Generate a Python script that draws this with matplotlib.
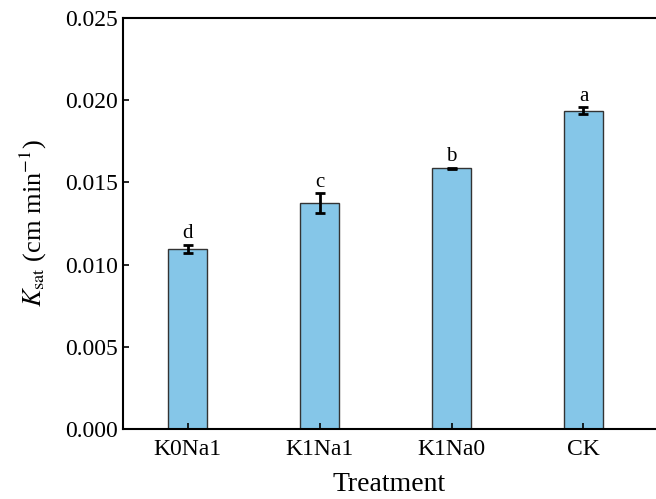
import numpy as np
import matplotlib.pyplot as plt

plt.rcParams['font.family'] = ['Liberation Serif', 'DejaVu Serif']
plt.rcParams['mathtext.fontset'] = 'stix'

# data
treatments = ['K0Na1', 'K1Na1', 'K1Na0', 'CK']
ksat = [0.01095, 0.01375, 0.01585, 0.01935]
ksat_err = [0.00025, 0.00060, 0.00004, 0.00022]
letters = ['d', 'c', 'b', 'a']

fig = plt.figure(figsize=(6.56, 4.99), dpi=100)
ax = fig.add_axes([0.1875, 0.1403, 0.8125, 0.8237])

x = np.arange(len(treatments))
ax.bar(x, ksat, width=0.3, color='#85C6E8', edgecolor='#333333', linewidth=1.0,
       yerr=ksat_err, capsize=3.5,
       error_kw=dict(elinewidth=2, capthick=2, ecolor='black'))

for xi, v, e, lab in zip(x, ksat, ksat_err, letters):
    ax.annotate(lab, xy=(xi, v + e), xytext=(0, 1), textcoords='offset points',
                ha='center', va='bottom', fontsize=15)

ax.set_xlim(-0.49, 3.55)
ax.set_ylim(0, 0.025)
ax.set_yticks(np.arange(0, 0.0251, 0.005))
ax.set_yticklabels([f'{t:.3f}' for t in np.arange(0, 0.0251, 0.005)])
ax.set_xticks(x)
ax.set_xticklabels(treatments)

ax.tick_params(direction='in', length=4, width=1.2, labelsize=17)
ax.tick_params(axis='x', pad=7)
for s in ['left', 'bottom', 'top']:
    ax.spines[s].set_linewidth(1.5)
ax.spines['right'].set_visible(False)

ax.set_xlabel('Treatment', fontsize=20, labelpad=9)
ax.set_ylabel(r'$K_{\rm sat}$ (cm min$^{-1}$)', fontsize=19, labelpad=12)

fig.savefig('out.png', dpi=100)
